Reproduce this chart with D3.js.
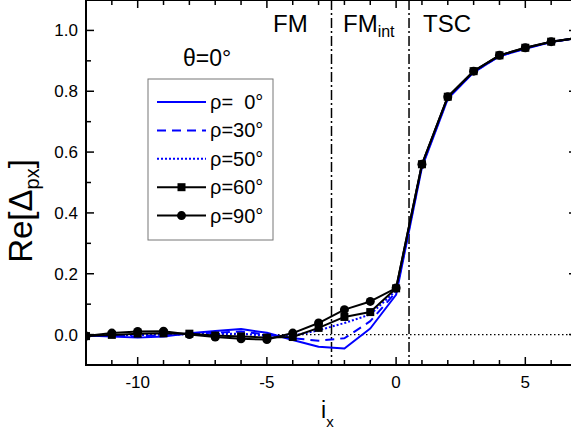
<!DOCTYPE html>
<html><head><meta charset="utf-8">
<script src="https://cdn.jsdelivr.net/npm/d3@7"></script>
<style>body{margin:0;background:#fff}svg{display:block;font-family:"Liberation Sans",Arial,sans-serif}</style>
</head><body><svg id="c" width="571" height="435"></svg>
<script>
const xs = [-12,-11,-10,-9,-8,-7,-6,-5,-4,-3,-2,-1,0,1,2,3,4,5,6,7];
const rho0  = [-0.003,-0.006,-0.010,-0.006,0.004,0.012,0.018,0.006,-0.018,-0.040,-0.046,0.020,0.131,0.550,0.775,0.862,0.915,0.940,0.962,0.975];
const rho30 = [-0.004,-0.004,-0.006,-0.003,0.003,0.006,0.010,0.000,-0.012,-0.020,-0.012,0.044,0.140,0.555,0.778,0.863,0.916,0.941,0.962,0.975];
const rho50 = [-0.004,-0.002,-0.002,0.000,0.002,0.002,0.003,-0.004,-0.004,0.014,0.038,0.066,0.145,0.558,0.780,0.865,0.917,0.942,0.963,0.975];
const rho60 = [-0.005,-0.001,0.003,0.004,0.003,-0.003,-0.006,-0.010,-0.008,0.022,0.058,0.074,0.152,0.560,0.782,0.866,0.918,0.943,0.963,0.975];
const rho90 = [-0.005,0.005,0.010,0.011,0.000,-0.008,-0.014,-0.016,0.005,0.038,0.082,0.109,0.153,0.560,0.782,0.866,0.918,0.943,0.963,0.975];
const legendLabels = ["ρ=  0°","ρ=30°","ρ=50°","ρ=60°","ρ=90°"];
const xTicks = [-10,-5,0,5];
const yTicks = [0,0.2,0.4,0.6,0.8,1.0];
const boundaries = [-2.5, 0.5];

const svg = d3.select("#c");
const L=86, R=577, T=0, B=365;
const x = d3.scaleLinear().domain([-12,7]).range([L,R]);
const y = d3.scaleLinear().domain([-0.1,1.1]).range([B,T]);

svg.append("defs").append("clipPath").attr("id","clip")
  .append("rect").attr("x",L).attr("y",T).attr("width",R-L).attr("height",B-T);

const series = [
  {v:rho0, color:"#0000ff", dash:null, marker:null, label:legendLabels[0]},
  {v:rho30, color:"#0000ff", dash:"9,6", marker:null, label:legendLabels[1]},
  {v:rho50, color:"#0000ff", dash:"2,2", marker:null, label:legendLabels[2]},
  {v:rho60, color:"#000", dash:null, marker:"square", label:legendLabels[3]},
  {v:rho90, color:"#000", dash:null, marker:"circle", label:legendLabels[4]}
];
const drawOrder = [0,1,2,4,3];

const plot = svg.append("g").attr("clip-path","url(#clip)");
plot.append("line").attr("x1",L).attr("x2",R).attr("y1",y(0)).attr("y2",y(0))
  .attr("stroke","#000").attr("stroke-width",1.2).attr("stroke-dasharray","1.5,2.5");
boundaries.forEach(b=>{
  plot.append("line").attr("x1",x(b)).attr("x2",x(b)).attr("y1",T).attr("y2",B)
    .attr("stroke","#000").attr("stroke-width",1.5).attr("stroke-dasharray","10,3,2,3");
});
const line = d3.line().x((d,i)=>x(xs[i])).y(d=>y(d));
drawOrder.forEach(k=>{
  const s = series[k];
  plot.append("path").datum(s.v).attr("d",line).attr("fill","none")
    .attr("stroke",s.color).attr("stroke-width",2)
    .attr("stroke-dasharray",s.dash).attr("stroke-linejoin","round");
  if(s.marker==="circle"){
    plot.selectAll(null).data(s.v).enter().append("circle")
      .attr("cx",(d,i)=>x(xs[i])).attr("cy",d=>y(d)).attr("r",4.5).attr("fill","#000");
  } else if(s.marker==="square"){
    plot.selectAll(null).data(s.v).enter().append("rect")
      .attr("x",(d,i)=>x(xs[i])-4).attr("y",d=>y(d)-4).attr("width",8).attr("height",8).attr("fill","#000");
  }
});

const fmt = d3.format(".1f");
const ax = svg.append("g").attr("stroke","#000");
ax.append("rect").attr("x",L).attr("y",T).attr("width",R-L).attr("height",B-T)
  .attr("fill","none").attr("stroke-width",2);
d3.range(-12,8,1).forEach(v=>{
  const len = xTicks.includes(v)?8:5;
  ax.append("line").attr("x1",x(v)).attr("x2",x(v)).attr("y1",B).attr("y2",B-len).attr("stroke-width",1.5);
  ax.append("line").attr("x1",x(v)).attr("x2",x(v)).attr("y1",T).attr("y2",T+len).attr("stroke-width",1.5);
});
d3.range(-1,12,1).map(d=>d/10).forEach(v=>{
  const len = yTicks.some(t=>Math.abs(t-v)<1e-9)?8:5;
  ax.append("line").attr("x1",L).attr("x2",L+len).attr("y1",y(v)).attr("y2",y(v)).attr("stroke-width",1.5);
  ax.append("line").attr("x1",R).attr("x2",R-len).attr("y1",y(v)).attr("y2",y(v)).attr("stroke-width",1.5);
});
svg.selectAll(null).data(xTicks).enter().append("text")
  .attr("x",d=>x(d)).attr("y",B+23).attr("text-anchor","middle").attr("font-size",17).text(d=>d);
svg.selectAll(null).data(yTicks).enter().append("text")
  .attr("x",L-8).attr("y",d=>y(d)+6).attr("text-anchor","end").attr("font-size",17).text(d=>fmt(d));

const yt = svg.append("text").attr("transform","translate(32,211) rotate(-90)")
  .attr("text-anchor","middle").attr("font-size",33);
yt.append("tspan").text("Re[Δ");
yt.append("tspan").attr("font-size",20).attr("dy",7).text("px");
yt.append("tspan").attr("dy",-7).text("]");
const xt = svg.append("text").attr("x",321).attr("y",418).attr("font-size",23);
xt.append("tspan").text("i");
xt.append("tspan").attr("font-size",15).attr("dy",9).text("x");

svg.append("text").attr("x",273).attr("y",32).attr("font-size",24).text("FM");
const fi = svg.append("text").attr("x",343).attr("y",32).attr("font-size",24);
fi.append("tspan").text("FM");
fi.append("tspan").attr("font-size",16).attr("dy",5).text("int");
svg.append("text").attr("x",423).attr("y",32).attr("font-size",24).text("TSC");
svg.append("text").attr("x",183).attr("y",66).attr("font-size",23).text("θ=0°");

const lg = svg.append("g");
lg.append("rect").attr("x",148).attr("y",79).attr("width",125).attr("height",161)
  .attr("fill","#fff").attr("stroke","#777").attr("stroke-width",1);
series.forEach((s,i)=>{
  const yy = 102 + i*28.4;
  lg.append("line").attr("x1",157).attr("x2",206).attr("y1",yy).attr("y2",yy)
    .attr("stroke",s.color).attr("stroke-width",2).attr("stroke-dasharray",s.dash);
  if(s.marker==="circle") lg.append("circle").attr("cx",181.5).attr("cy",yy).attr("r",4.5).attr("fill","#000");
  if(s.marker==="square") lg.append("rect").attr("x",177.5).attr("y",yy-4).attr("width",8).attr("height",8).attr("fill","#000");
  lg.append("text").attr("x",210).attr("y",yy+7).attr("font-size",20)
    .style("white-space","pre").text(s.label);
});
</script></body></html>
